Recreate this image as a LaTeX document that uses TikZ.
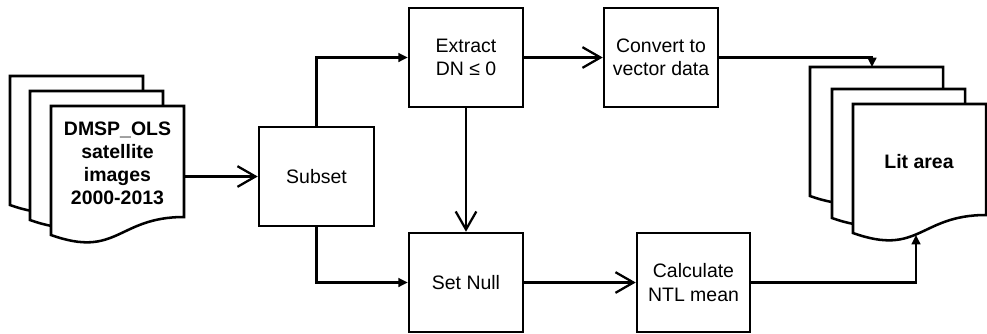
\documentclass[tikz,border=0pt]{standalone}
\usepackage{fontspec}
\setmainfont{Liberation Sans}
\usetikzlibrary{arrows.meta}
\newcommand\drawdoc[3]{% name, x, y (top-left)
  \draw[docline] (#2,#3) coordinate (#1-nw) -- ++(133,0) -- ++(0,111)
    .. controls +(-66.5,0) and +(66.5,23.8) .. ++(-133,18) -- cycle;
}
\begin{document}
\begin{tikzpicture}[x=0.75pt,y=-0.75pt,
  every node/.style={font=\fontsize{14.6pt}{17.3pt}\selectfont, align=center},
  procbox/.style={draw, line width=1.9pt, minimum width=85.5pt, minimum height=74.25pt, inner sep=0pt},
  docline/.style={draw, fill=white, line width=1.9pt, line join=miter},
  conn/.style={line width=1.7pt},
  openarr/.style={conn, -{Straight Barb[length=13.5pt,width=15.5pt,line width=1.7pt]}},
  fillarr/.style={conn, -{Triangle[length=7pt,width=6.5pt]}},
  doctext/.style={font=\fontsize{14.6pt}{17.3pt}\selectfont\bfseries}
]
\useasboundingbox (0,0) rectangle (987,333);

% left documents
\drawdoc{dLa}{10}{76}
\drawdoc{dLb}{30}{91}
\drawdoc{dLc}{51}{106}
\node[doctext] (docL) at (117.5,163) {DMSP\_OLS\\satellite\\images\\2000-2013};
\coordinate (docL-e) at (184,176.5);

% right documents
\drawdoc{dRa}{810}{67}
\drawdoc{dRb}{832}{89}
\drawdoc{dRc}{853}{104}
\node[doctext] (docR) at (919,162) {Lit area};
\coordinate (docR-top) at (872,67);
\coordinate (docR-s) at (916,235);

% process boxes
\node[procbox, minimum width=86.25pt] (subset) at (316.5,176.5) {Subset};
\node[procbox] (extract) at (466,57.5) {Extract\\DN ≤ 0};
\node[procbox] (convert) at (661,57.5) {Convert to\\vector data};
\node[procbox] (setnull) at (466,282.5) {Set Null};
\node[procbox, minimum width=84.75pt] (calc) at (693.5,282.5) {Calculate\\NTL mean};

% connectors
\draw[openarr] (docL-e) -- (subset.west);
\draw[fillarr] (subset.north) |- (extract.west);
\draw[fillarr] (subset.south) |- (setnull.west);
\draw[openarr] (extract.south) -- (setnull.north);
\draw[openarr] (extract.east) -- (convert.west);
\draw[openarr] (setnull.east) -- (calc.west);
\draw[fillarr] (convert.east) -| (docR-top);
\draw[fillarr] (calc.east) -| (docR-s);
\end{tikzpicture}
\end{document}
